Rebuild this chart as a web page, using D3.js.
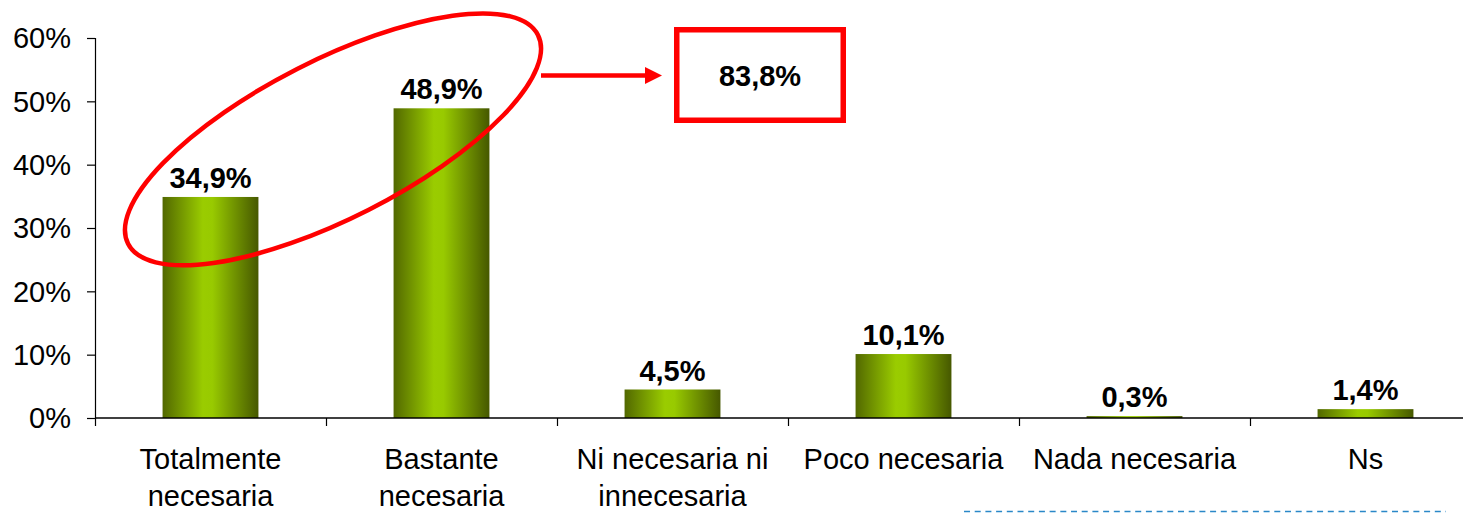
<!DOCTYPE html>
<html>
<head>
<meta charset="utf-8">
<script src="https://cdn.jsdelivr.net/npm/d3@7"></script>
<style>
  html, body { margin: 0; padding: 0; background: #fff; overflow: hidden; }
  svg { display: block; }
  text { font-family: "Liberation Sans", Arial, sans-serif; fill: #000; }
</style>
</head>
<body>
<svg id="chart" width="1463" height="513"></svg>
<script>
// ---- data ----
const categories = [
  ["Totalmente", "necesaria"],
  ["Bastante", "necesaria"],
  ["Ni necesaria ni", "innecesaria"],
  ["Poco necesaria"],
  ["Nada necesaria"],
  ["Ns"]
];
const values = [34.9, 48.9, 4.5, 10.1, 0.3, 1.4];
const valueLabels = ["34,9%", "48,9%", "4,5%", "10,1%", "0,3%", "1,4%"];
const yTicks = [0, 10, 20, 30, 40, 50, 60];
const highlightedIdx = [0, 1];
const highlightTotal = "83,8%";

// ---- layout ----
const svg = d3.select("#chart");
const plot = { left: 95, top: 38, bottom: 418, right: 1481 };
const keys = categories.map((c, i) => i);

const x = d3.scaleBand().domain(keys).range([plot.left, plot.right])
  .paddingInner(0.585).paddingOuter(0.2925);
const xEdge = d3.scaleBand().domain(keys).range([plot.left, plot.right]);
const y = d3.scaleLinear().domain([0, 60]).range([plot.bottom, plot.top]);

// gradient
const defs = svg.append("defs");
const grad = defs.append("linearGradient").attr("id", "barGrad")
  .attr("x1", "0%").attr("x2", "100%").attr("y1", "0%").attr("y2", "0%");
[["0%", "#526800"], ["42%", "#9acc00"], ["52%", "#98ca00"], ["100%", "#465800"]]
  .forEach(([o, c]) => grad.append("stop").attr("offset", o).attr("stop-color", c));

// y axis
const yAxis = svg.append("g").attr("transform", `translate(${plot.left},0)`)
  .call(d3.axisLeft(y).tickValues(yTicks).tickFormat(d => d + "%").tickSize(8).tickPadding(16));
yAxis.select(".domain").attr("stroke", "#000").attr("stroke-width", 1.2);
yAxis.selectAll(".tick line").attr("stroke", "#000").attr("stroke-width", 1.2);
yAxis.selectAll(".tick text").attr("font-size", 29).attr("fill", "#000")
  .style("font-family", "'Liberation Sans', Arial, sans-serif").attr("dy", "0.34em");

// bars
svg.append("g").selectAll("rect").data(values).join("rect")
  .attr("x", (d, i) => x(i))
  .attr("y", d => y(d))
  .attr("width", x.bandwidth())
  .attr("height", d => y(0) - y(d))
  .attr("fill", "url(#barGrad)");

// x axis line + ticks
const xg = svg.append("g");
xg.append("line").attr("x1", plot.left).attr("x2", plot.right)
  .attr("y1", y(0)).attr("y2", y(0)).attr("stroke", "#000").attr("stroke-width", 1.5);
xg.selectAll("line.tk").data(keys).join("line").attr("class", "tk")
  .attr("x1", d => Math.round(xEdge(d)) + 0.5).attr("x2", d => Math.round(xEdge(d)) + 0.5)
  .attr("y1", y(0)).attr("y2", y(0) + 8).attr("stroke", "#000").attr("stroke-width", 1.2);

// category labels
const lab = svg.append("g").selectAll("text").data(categories).join("text")
  .attr("text-anchor", "middle").attr("font-size", 29)
  .attr("x", (d, i) => x(i) + x.bandwidth() / 2)
  .attr("y", 469);
lab.selectAll("tspan").data(d => d).join("tspan")
  .attr("x", function() { return d3.select(this.parentNode).attr("x"); })
  .attr("dy", (d, j) => j === 0 ? 0 : 37)
  .text(d => d);

// value labels
svg.append("g").selectAll("text").data(values).join("text")
  .attr("text-anchor", "middle").attr("font-size", 29).attr("font-weight", "bold")
  .attr("x", (d, i) => x(i) + x.bandwidth() / 2)
  .attr("y", d => y(d) - 9)
  .text((d, i) => valueLabels[i]);

// ---- annotations ----
const ann = svg.append("g");
const c0 = x(highlightedIdx[0]) + x.bandwidth() / 2;
const c1 = x(highlightedIdx[1]) + x.bandwidth() / 2;
const ecx = (c0 + c1) / 2 + 7, ecy = y(44);
ann.append("ellipse")
  .attr("cx", 0).attr("cy", 0).attr("rx", 230).attr("ry", 79)
  .attr("transform", `translate(${ecx},${ecy}) rotate(-27)`)
  .attr("fill", "none").attr("stroke", "#ff0000").attr("stroke-width", 4.5);

const ay = 75.5;
ann.append("line").attr("x1", 541).attr("x2", 648).attr("y1", ay).attr("y2", ay)
  .attr("stroke", "#ff0000").attr("stroke-width", 4.5);
ann.append("path").attr("d", `M662,${ay} L645,${ay - 8.5} L645,${ay + 8.5} Z`).attr("fill", "#ff0000");

ann.append("rect").attr("x", 676.75).attr("y", 29.75).attr("width", 166.5).attr("height", 90.5)
  .attr("fill", "none").attr("stroke", "#ff0000").attr("stroke-width", 5.5);
ann.append("text").attr("x", 760).attr("y", 86).attr("text-anchor", "middle")
  .attr("font-size", 29).attr("font-weight", "bold").text(highlightTotal);

// dashed line at bottom
svg.append("line").attr("x1", 964).attr("x2", 1446).attr("y1", 511.5).attr("y2", 511.5)
  .attr("stroke", "#2a88c8").attr("stroke-width", 1.5).attr("stroke-dasharray", "6 4.7");
</script>
</body>
</html>
